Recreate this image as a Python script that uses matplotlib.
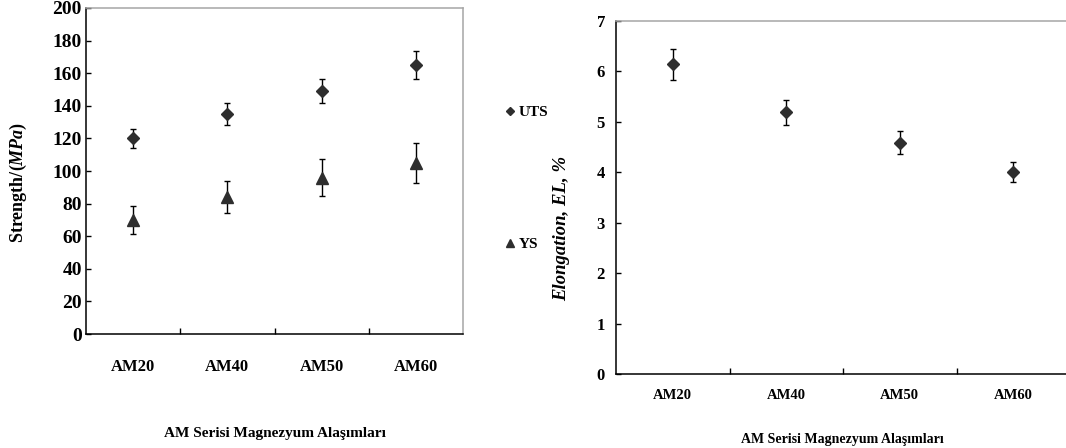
import matplotlib
matplotlib.use("Agg")
import matplotlib.pyplot as plt
from matplotlib.ticker import FixedLocator

plt.rcParams['font.family'] = ['Liberation Serif', 'DejaVu Serif']
plt.rcParams['font.weight'] = 'bold'
plt.rcParams['mathtext.fontset'] = 'custom'
plt.rcParams['mathtext.it'] = 'Liberation Serif:italic:bold'
plt.rcParams['mathtext.rm'] = 'Liberation Serif:bold'

# ---- data ----
alloys = ["AM20", "AM40", "AM50", "AM60"]
uts = [120, 135, 149, 165]
uts_err = [6, 7, 7.5, 8.4]
ys = [70, 84, 96, 105]
ys_err = [8.4, 10, 11.5, 12.3]
elong = [6.14, 5.19, 4.59, 4.00]
elong_err = [0.31, 0.25, 0.23, 0.20]
strength_ticks = [0, 20, 40, 60, 80, 100, 120, 140, 160, 180, 200]
elong_ticks = [0, 1, 2, 3, 4, 5, 6, 7]

W, H = 1066, 448
fig = plt.figure(figsize=(W / 100, H / 100), dpi=100)

mcol = '#2e2e2e'
gray = '#a6a6a6'
x = list(range(len(alloys)))

def style(ax, label_size, cat_size, cat_pad, ytick_pad):
    for s in ['left', 'bottom']:
        ax.spines[s].set_color('black')
        ax.spines[s].set_linewidth(1.1)
    for s in ['top', 'right']:
        ax.spines[s].set_color(gray)
        ax.spines[s].set_linewidth(1.1)
    ax.set_xlim(-0.5, len(alloys) - 0.5)
    ax.xaxis.set_major_locator(FixedLocator(x))
    ax.set_xticklabels(alloys, fontsize=cat_size, fontweight='bold')
    ax.xaxis.set_minor_locator(FixedLocator([i + 0.5 for i in x[:-1]]))
    ax.tick_params(axis='x', which='major', length=0, pad=cat_pad)
    ax.tick_params(axis='x', which='minor', direction='in', length=4, width=1, color='black')
    ax.tick_params(axis='y', which='major', direction='in', length=3.5, width=1,
                   labelsize=label_size, pad=ytick_pad)

# ---- left: strength ----
ax1 = fig.add_axes([86 / W, 1 - 334 / H, 377 / W, 326 / H])
ax1.errorbar(x, uts, yerr=uts_err, fmt='D', ms=5.8, color=mcol, mec=mcol,
             ecolor='black', elinewidth=1, capsize=2.3, capthick=1, label='UTS', zorder=3)
ax1.errorbar(x, ys, yerr=ys_err, fmt='^', ms=8, color=mcol, mec=mcol,
             ecolor='black', elinewidth=1, capsize=2.3, capthick=1, label='YS', zorder=3)
ax1.set_ylim(0, 200)
ax1.set_yticks(strength_ticks)
style(ax1, 14, 12, 18, 3)
ax1.set_ylabel(r'Strength/($\mathit{MPa}$)', fontsize=13, fontweight='bold')
ax1.yaxis.set_label_coords((18 - 86) / 377, (334 - 182) / 326)
ax1.yaxis.label.set_va('center')
ax1.set_xlabel('AM Serisi Magnezyum Alaşımları', fontsize=11, fontweight='bold')
ax1.xaxis.set_label_coords(0.5, -(433 - 334) / 326)
ax1.xaxis.label.set_va('center')

handles, labels = ax1.get_legend_handles_labels()
handles = [h[0] for h in handles]
leg = fig.legend(handles, labels, loc='upper left',
                 bbox_to_anchor=(499 / W, 1 - 98 / H), frameon=False,
                 handlelength=0.5, handletextpad=0.3, labelspacing=7.75,
                 borderpad=0, markerscale=0.75, prop={'size': 11, 'weight': 'bold'})

# ---- right: elongation ----
ax2 = fig.add_axes([616 / W, 1 - 374 / H, 454 / W, 353 / H])
ax2.errorbar(x, elong, yerr=elong_err, fmt='D', ms=5.8, color=mcol, mec=mcol,
             ecolor='black', elinewidth=1, capsize=2.3, capthick=1, zorder=3)
ax2.set_ylim(0, 7)
ax2.set_yticks(elong_ticks)
style(ax2, 12, 10.5, 11, 8)
ax2.set_ylabel('Elongation, EL, %', fontsize=13.5, fontweight='bold', fontstyle='italic')
ax2.yaxis.set_label_coords((562 - 616) / 454, (374 - 228) / 353)
ax2.yaxis.label.set_va('center')
ax2.set_xlabel('AM Serisi Magnezyum Alaşımları', fontsize=10, fontweight='bold')
ax2.xaxis.set_label_coords((842 - 616) / 454, -(439 - 374) / 353)
ax2.xaxis.label.set_va('center')

fig.savefig('out.png', dpi=100)
